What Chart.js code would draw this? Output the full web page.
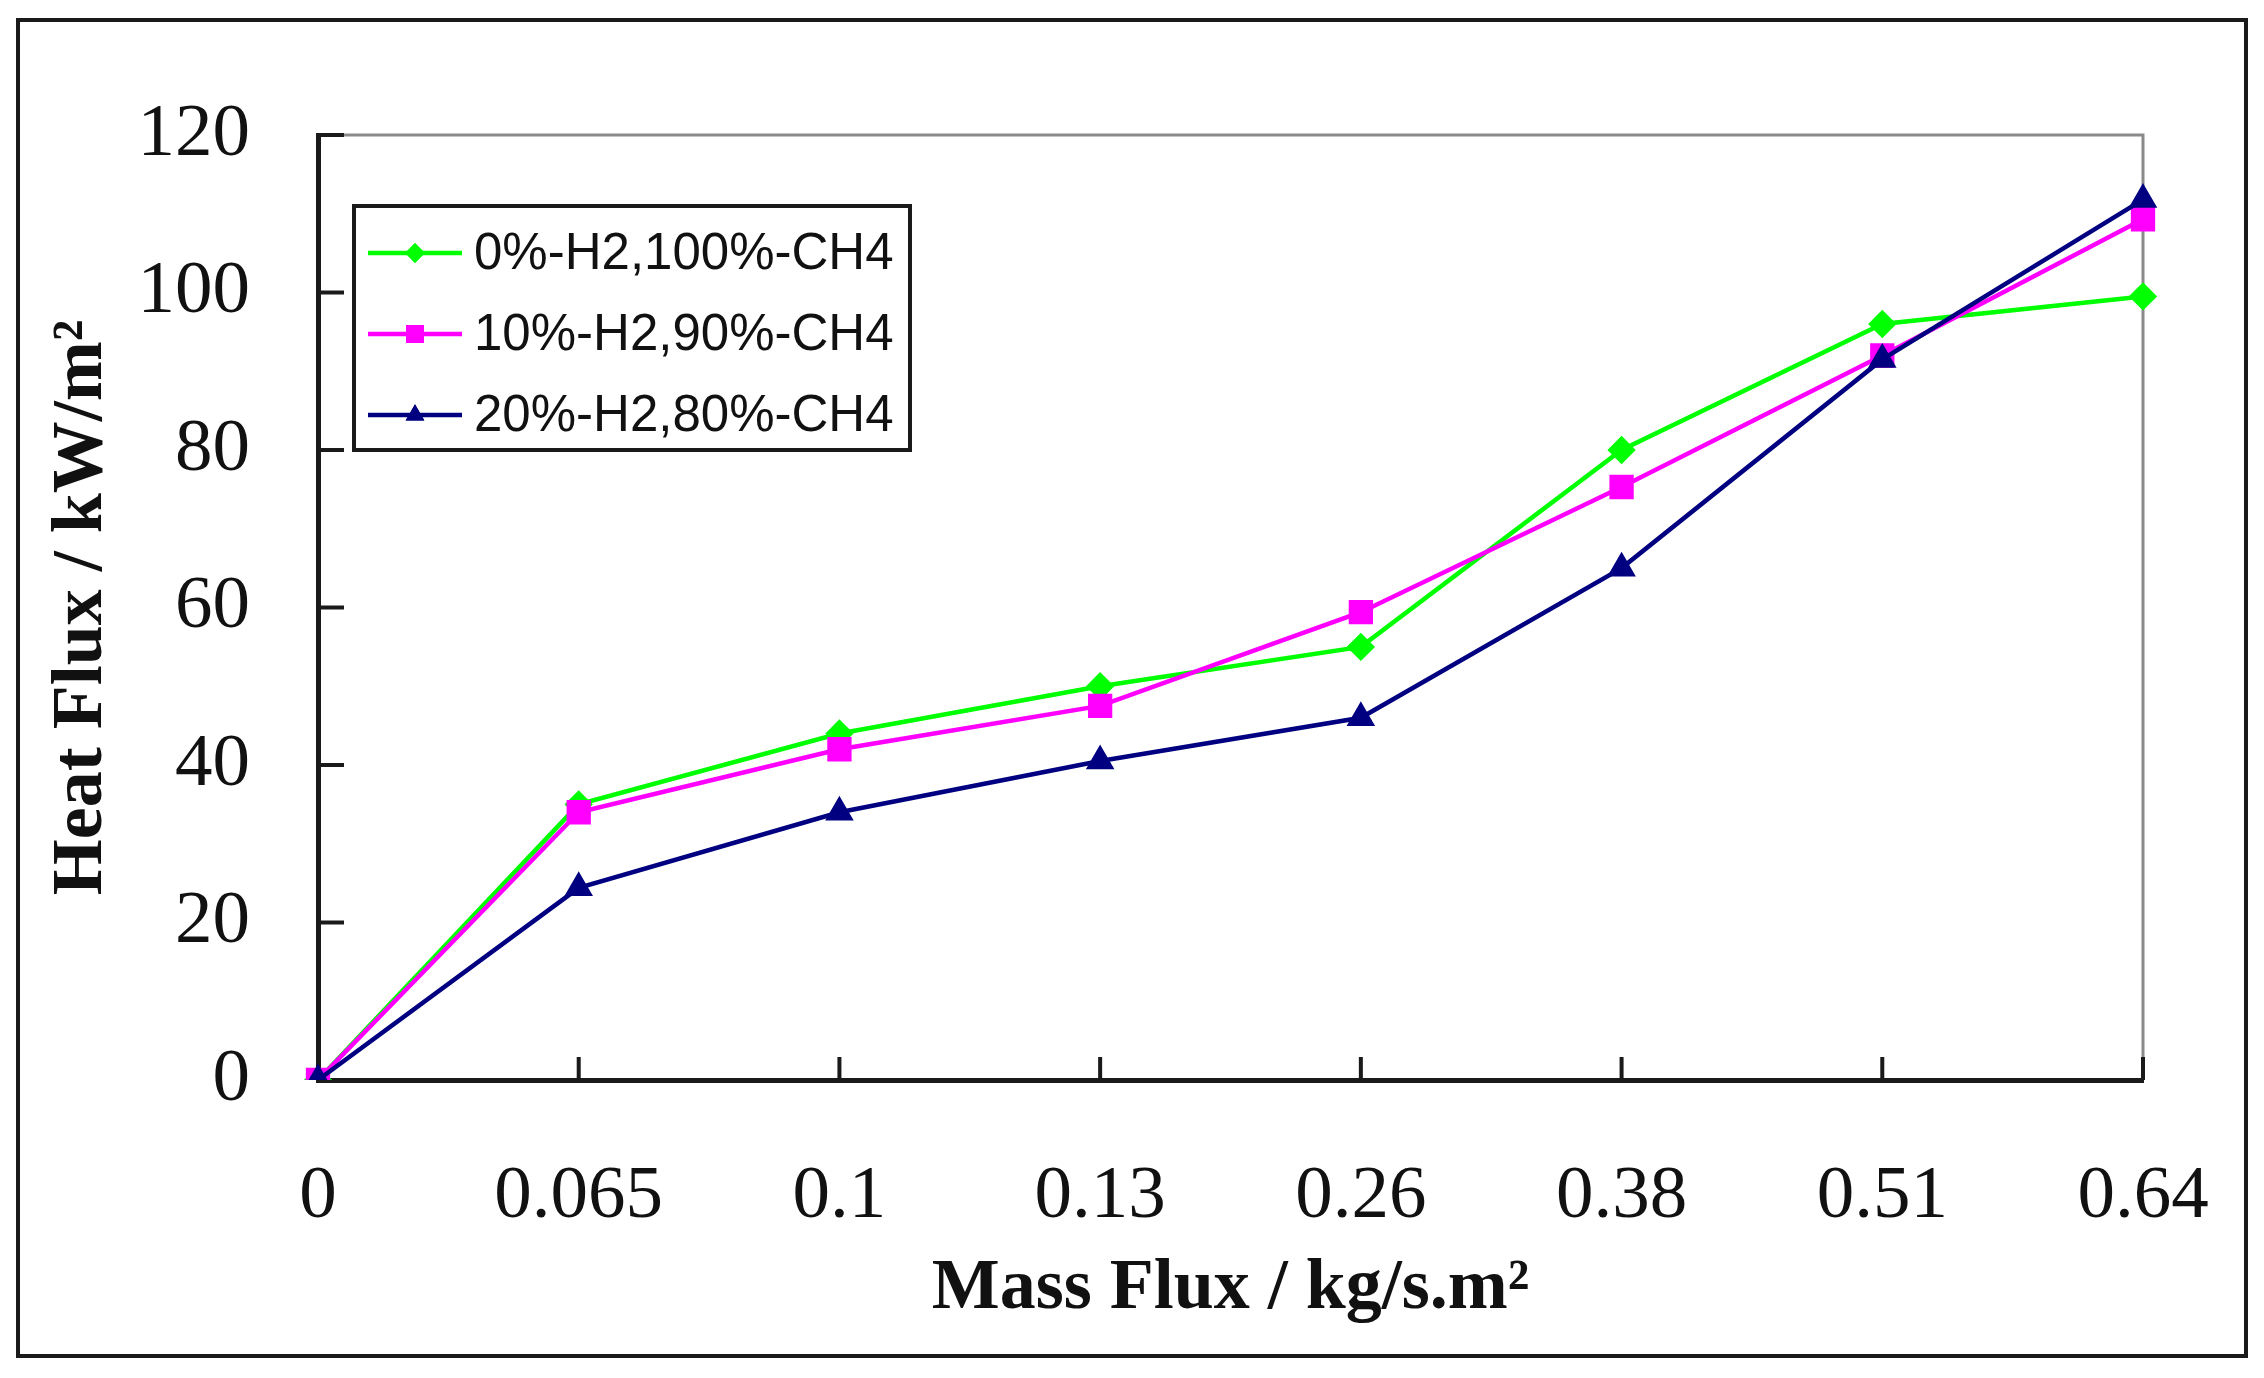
<!DOCTYPE html>
<html>
<head>
<meta charset="utf-8">
<style>
  html, body { margin: 0; padding: 0; background: #fff; }
  #wrap { position: relative; width: 2264px; height: 1378px; }
</style>
<script src="https://cdn.jsdelivr.net/npm/chart.js@4.4.1/dist/chart.umd.min.js"></script>
</head>
<body>
<div id="wrap"><canvas id="heatChart" width="2264" height="1378"></canvas></div>
<script>
// Mass flux categories and heat flux readings (kW/m²)
const massFlux = ['0', '0.065', '0.1', '0.13', '0.26', '0.38', '0.51', '0.64'];
const h2_0 = [0, 35, 44, 50, 55, 80, 96, 99.5];
const h2_10 = [0, 34, 42, 47.5, 59.4, 75.3, 92, 109.3];
const h2_20 = [0, 24.4, 34, 40.5, 46, 65, 91.5, 111.8];
const seriesNames = ['0%-H2,100%-CH4', '10%-H2,90%-CH4', '20%-H2,80%-CH4'];
const yMin = 0, yMax = 120, yStep = 20;

const serif = '"Liberation Serif", "Times New Roman", serif';

// outer frame, plot border, inward ticks and boxed legend
const decor = {
  id: 'decor',
  beforeDraw(chart) {
    const ctx = chart.ctx;
    ctx.save();
    ctx.fillStyle = '#fff';
    ctx.fillRect(0, 0, chart.width, chart.height);
    ctx.strokeStyle = '#1a1a1a';
    ctx.lineWidth = 4;
    ctx.strokeRect(18, 20, chart.width - 36, chart.height - 42);
    ctx.restore();
  },
  beforeDatasetsDraw(chart) {
    const ctx = chart.ctx;
    const a = chart.chartArea;
    const xs = chart.scales.x, ys = chart.scales.y;
    ctx.save();
    ctx.strokeStyle = '#8a8a8a';
    ctx.lineWidth = 3;
    ctx.beginPath();
    ctx.moveTo(a.left, a.top);
    ctx.lineTo(a.right, a.top);
    ctx.lineTo(a.right, a.bottom);
    ctx.stroke();
    ctx.strokeStyle = '#1a1a1a';
    ctx.lineWidth = 4;
    ctx.beginPath();
    ys.ticks.forEach(t => {
      const y = ys.getPixelForValue(t.value);
      ctx.moveTo(a.left, y);
      ctx.lineTo(a.left + 26, y);
    });
    xs.ticks.forEach((t, i) => {
      const x = xs.getPixelForTick(i);
      ctx.moveTo(x, a.bottom);
      ctx.lineTo(x, a.bottom - 23);
    });
    ctx.stroke();
    ctx.restore();
  },
  afterDraw(chart) {
    const ctx = chart.ctx;
    const a = chart.chartArea;
    const left = a.left + 36, top = a.top + 71, w = 556, h = 244;
    ctx.save();
    ctx.fillStyle = '#fff';
    ctx.fillRect(left, top, w, h);
    ctx.strokeStyle = '#1a1a1a';
    ctx.lineWidth = 4;
    ctx.strokeRect(left, top, w, h);
    ctx.font = '51px "Liberation Sans", Arial, sans-serif';
    ctx.textBaseline = 'middle';
    chart.data.datasets.forEach((ds, i) => {
      const y = top + 47 + i * 81;
      ctx.strokeStyle = ds.borderColor;
      ctx.lineWidth = ds.borderWidth;
      ctx.beginPath();
      ctx.moveTo(left + 14, y);
      ctx.lineTo(left + 108, y);
      ctx.stroke();
      ctx.fillStyle = ds.backgroundColor;
      Chart.helpers.drawPoint(ctx, {
        pointStyle: ds.pointStyle,
        radius: ds.pointRadius * 0.9,
        rotation: 0,
        borderWidth: 0
      }, left + 61, y);
      ctx.fill();
      ctx.fillStyle = '#111';
      ctx.fillText(ds.label, left + 120, y + 2);
    });
    ctx.restore();
  }
};

const ctx = document.getElementById('heatChart').getContext('2d');
new Chart(ctx, {
  type: 'line',
  data: {
    labels: massFlux,
    datasets: [
      {
        label: seriesNames[0],
        data: h2_0,
        borderColor: '#00ff00',
        backgroundColor: '#00ff00',
        borderWidth: 4.5,
        pointStyle: 'rectRot',
        pointRadius: 11,
        order: 3
      },
      {
        label: seriesNames[1],
        data: h2_10,
        borderColor: '#ff00ff',
        backgroundColor: '#ff00ff',
        borderWidth: 4.5,
        pointStyle: 'rect',
        pointRadius: 14,
        order: 2
      },
      {
        label: seriesNames[2],
        data: h2_20,
        borderColor: '#000080',
        backgroundColor: '#000080',
        borderWidth: 4.5,
        pointStyle: 'triangle',
        pointRadius: 12,
        order: 1
      }
    ]
  },
  options: {
    responsive: false,
    animation: false,
    devicePixelRatio: 1,
    layout: { padding: { left: 0, top: 135, right: 121, bottom: 0 } },
    elements: { line: { tension: 0 }, point: { borderWidth: 1 } },
    plugins: {
      legend: { display: false },
      tooltip: { enabled: false }
    },
    scales: {
      x: {
        type: 'category',
        offset: false,
        afterFit(scale) {
          scale.height = 298;
          // tick padding would otherwise widen the right margin
          scale.paddingLeft = 0;
          scale.paddingRight = 0;
        },
        grid: { drawOnChartArea: false, drawTicks: false, offset: false },
        border: { display: true, color: '#1a1a1a', width: 5 },
        ticks: {
          padding: 72,
          maxRotation: 0,
          autoSkip: false,
          color: '#111',
          font: { family: serif, size: 75 }
        },
        title: {
          display: true,
          text: 'Mass Flux / kg/s.m²',
          color: '#111',
          padding: { top: 0, bottom: 45 },
          font: { family: serif, size: 72, weight: 'bold', lineHeight: 1.2 }
        }
      },
      y: {
        min: yMin,
        max: yMax,
        afterFit(scale) { scale.width = 318; },
        grid: { drawOnChartArea: false, drawTicks: false },
        border: { display: true, color: '#1a1a1a', width: 5 },
        ticks: {
          stepSize: yStep,
          padding: 68,
          color: '#111',
          font: { family: serif, size: 75 }
        },
        title: {
          display: true,
          text: 'Heat Flux / kW/m²',
          color: '#111',
          padding: { top: 39, bottom: 0 },
          font: { family: serif, size: 72, weight: 'bold', lineHeight: 1.2 }
        }
      }
    }
  },
  plugins: [decor]
});
</script>
</body>
</html>
